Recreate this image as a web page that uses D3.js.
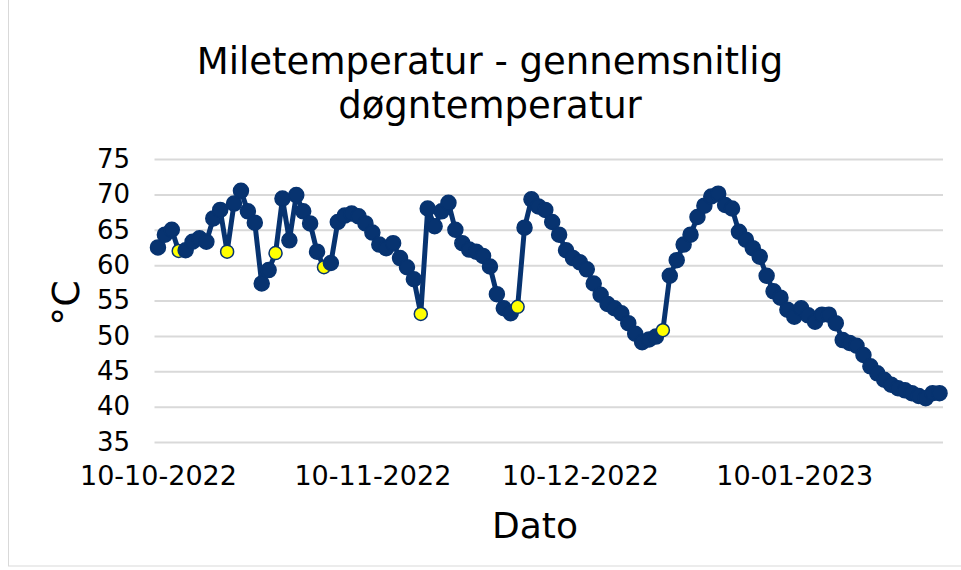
<!DOCTYPE html>
<html>
<head>
<meta charset="utf-8">
<script src="https://d3js.org/d3.v7.min.js"></script>
<style>
  body { margin: 0; background: #fff; }
  text { font-family: "DejaVu Sans", Verdana, sans-serif; fill: #000; }
</style>
</head>
<body>
<svg width="961" height="570"></svg>
<script>

// daily readings, first day 10-10-2022
var startDate = "2022-10-10";
var temps = [
    62.5, 64.3, 65.0, 62.0, 62.1, 63.3, 63.8, 63.3, 66.6, 67.8,
    61.9, 68.7, 70.5, 67.6, 66.0, 57.4, 59.3, 61.7, 69.4, 63.5,
    69.9, 67.6, 65.9, 61.9, 59.7, 60.3, 66.1, 67.0, 67.3, 66.9,
    65.9, 64.6, 62.9, 62.4, 63.1, 61.0, 59.7, 58.0, 53.1, 68.0,
    65.5, 67.6, 68.8, 65.0, 63.1, 62.2, 61.9, 61.3, 59.8, 55.9,
    53.9, 53.2, 54.1, 65.3, 69.3, 68.3, 67.8, 66.1, 64.3, 62.1,
    61.0, 60.4, 59.4, 57.4, 55.8, 54.5, 53.9, 53.2, 51.8, 50.3,
    49.1, 49.5, 49.9, 50.8, 58.5, 60.7, 62.9, 64.3, 66.8, 68.4,
    69.7, 70.1, 68.5, 68.0, 64.7, 63.6, 62.4, 61.2, 58.5, 56.3,
    55.4, 53.7, 52.7, 53.9, 52.9, 52.0, 53.0, 53.0, 51.8, 49.4,
    49.0, 48.6, 47.3, 45.7, 44.7, 43.8, 43.1, 42.6, 42.3, 41.9,
    41.5, 41.2, 41.9, 41.9
];
// days drawn with a yellow marker
var markedDays = ["2022-10-13", "2022-10-20", "2022-10-27", "2022-11-03",
                  "2022-11-17", "2022-12-01", "2022-12-22"];
var xTicks = ["2022-10-10", "2022-11-10", "2022-12-10", "2023-01-10"];
var yTicks = [35, 40, 45, 50, 55, 60, 65, 70, 75];

var parse = d3.utcParse("%Y-%m-%d"),
    fmt = d3.utcFormat("%d-%m-%Y");

var first = parse(startDate);
var data = temps.map(function(v, i) {
    return {date: d3.utcDay.offset(first, i), value: v};
});
var marked = markedDays.map(function(s) { return +parse(s); });

var svg = d3.select("svg");
var navy = "#073370";

// chart border
svg.append("rect")
    .attr("x", 8.5).attr("y", -2)
    .attr("width", 960).attr("height", 568)
    .attr("fill", "none")
    .attr("stroke", "#d9d9d9")
    .attr("stroke-width", 1);

var plotLeft = 154.5, plotRight = 943, plotTop = 159, plotBottom = 442;

// Excel date axis: each day is a band, point in the middle
var x = d3.scaleUtc()
    .domain([first, d3.utcDay.offset(first, temps.length)])
    .range([plotLeft, plotRight]);
var half = 12 * 3600 * 1000;
function px(d) { return x(+d + half); }

var y = d3.scaleLinear().domain([35, 75]).range([plotBottom, plotTop]);

// gridlines
svg.append("g")
    .attr("transform", "translate(" + plotLeft + ",0)")
    .call(d3.axisLeft(y).tickValues(yTicks).tickSize(-(plotRight - plotLeft)).tickFormat(""))
    .call(function(g) {
        g.select(".domain").remove();
        g.selectAll("line").attr("stroke", "#d9d9d9").attr("stroke-width", 2);
    });

// y labels
svg.append("g")
    .attr("transform", "translate(130,0)")
    .call(d3.axisLeft(y).tickValues(yTicks).tickSize(0).tickPadding(0))
    .call(function(g) {
        g.select(".domain").remove();
        g.selectAll("text")
            .attr("font-size", 26)
            .attr("font-family", "DejaVu Sans, Verdana, sans-serif")
            .attr("fill", "#000");
    });

// x labels
svg.append("g")
    .attr("transform", "translate(0,466)")
    .call(d3.axisBottom(x)
        .tickValues(xTicks.map(function(s) { return new Date(+parse(s) + half); }))
        .tickFormat(fmt).tickSize(0).tickPadding(0))
    .call(function(g) {
        g.select(".domain").remove();
        g.selectAll("text")
            .attr("font-size", 27)
            .attr("font-family", "DejaVu Sans, Verdana, sans-serif")
            .attr("fill", "#000");
    });

// line
svg.append("path")
    .datum(data)
    .attr("fill", "none")
    .attr("stroke", navy)
    .attr("stroke-width", 5)
    .attr("stroke-linejoin", "round")
    .attr("d", d3.line()
        .x(function(d) { return px(d.date); })
        .y(function(d) { return y(d.value); }));

// markers
svg.append("g")
    .selectAll("circle")
    .data(data)
    .enter()
    .append("circle")
    .attr("cx", function(d) { return px(d.date); })
    .attr("cy", function(d) { return y(d.value); })
    .attr("r", function(d) { return marked.indexOf(+d.date) >= 0 ? 6.5 : 7.5; })
    .attr("fill", function(d) { return marked.indexOf(+d.date) >= 0 ? "#ffff00" : navy; })
    .attr("stroke", navy)
    .attr("stroke-width", 1.5);

// titles
var title = svg.append("text")
    .attr("text-anchor", "middle")
    .attr("font-size", 37);
title.append("tspan").attr("x", 490).attr("y", 74).text("Miletemperatur - gennemsnitlig");
title.append("tspan").attr("x", 490).attr("y", 118).text("døgntemperatur");

svg.append("text")
    .attr("transform", "translate(79,303) rotate(-90)")
    .attr("text-anchor", "middle")
    .attr("font-size", 38)
    .text("°C");

svg.append("text")
    .attr("x", 535).attr("y", 538)
    .attr("text-anchor", "middle")
    .attr("font-size", 36)
    .text("Dato");

</script>
</body>
</html>
